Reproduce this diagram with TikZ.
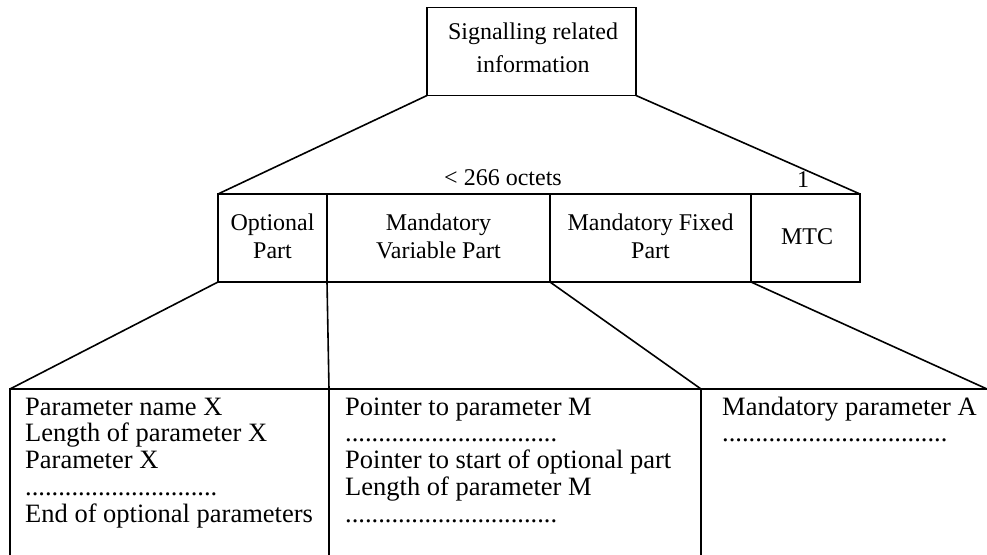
\documentclass[tikz,border=0pt]{standalone}
\usepackage{fontspec}
\setmainfont{Liberation Serif}
% dotted placeholder rows of different lengths
\newcommand{\dotsopt}{.............................}
\newcommand{\dotsvar}{................................}
\newcommand{\dotsfix}{..................................}
\begin{document}
\begin{tikzpicture}[x=1pt,y=-1pt,
  box/.style={draw, line width=1.8pt, inner sep=0pt, outer sep=0pt},
  link/.style={line width=1.6pt},
  hdr/.style={font=\fontsize{24}{28}\selectfont, anchor=base, inner sep=0pt},
  body/.style={font=\fontsize{26.5}{30}\selectfont, anchor=base west, inner sep=0pt}]
\clip (0,0) rectangle (987,554);

% message header box
\node[box, minimum width=209pt, minimum height=88pt] (sig) at (531.5,51.5) {};
\node[hdr] (sig1) at (533,39) {Signalling related};
\node[hdr] (sig2) at (533,72) {information};

% parts of the message
\node[box, minimum width=109pt, minimum height=88pt] (opt) at (272.5,238) {};
\node[box, minimum width=223pt, minimum height=88pt] (mvp) at (438.5,238) {};
\node[box, minimum width=201pt, minimum height=88pt] (mfp) at (650.5,238) {};
\node[box, minimum width=109pt, minimum height=88pt] (mtc) at (805.5,238) {};

\node[hdr] (opt1) at (272.5,230) {Optional};
\node[hdr] (opt2) at (272.5,258) {Part};
\node[hdr] (mvp1) at (438.5,230) {Mandatory};
\node[hdr] (mvp2) at (438.5,258) {Variable Part};
\node[hdr] (mfp1) at (650.5,230) {Mandatory Fixed};
\node[hdr] (mfp2) at (650.5,258) {Part};
\node[hdr] (mtc1) at (807,244) {MTC};

\node[hdr] (octets) at (503,185) {< 266 octets};
\node[hdr] (one) at (803,187) {1};

% detailed contents
\node[box, minimum width=319pt, minimum height=231pt] (pleft) at (169.5,504.5) {};
\node[box, minimum width=372pt, minimum height=231pt] (pmid) at (515,504.5) {};
\node[box, minimum width=400pt, minimum height=231pt] (pright) at (901,504.5) {};

\foreach \t [count=\i] in {Parameter name X, Length of parameter X, Parameter X,
    \dotsopt, End of optional parameters}
  \node[body] (ol\i) at (25,{415+26.75*(\i-1)}) {\t};
\foreach \t [count=\i] in {Pointer to parameter M, \dotsvar,
    Pointer to start of optional part, Length of parameter M, \dotsvar}
  \node[body] (ml\i) at (345,{415+26.75*(\i-1)}) {\t};
\foreach \t [count=\i] in {Mandatory parameter A, \dotsfix}
  \node[body] (fl\i) at (722,{415+26.75*(\i-1)}) {\t};

% fan-out connectors
\draw[link] (sig.south west) -- (opt.north west);
\draw[link] (sig.south east) -- (mtc.north east);
\draw[link] (opt.south west) -- (pleft.north west);
\draw[link] (mvp.south west) -- (pmid.north west);
\draw[link] (mfp.south west) -- (pright.north west);
\coordinate (rimend) at (987,389);
\draw[link] (mtc.south west) -- (rimend);
\end{tikzpicture}
\end{document}
